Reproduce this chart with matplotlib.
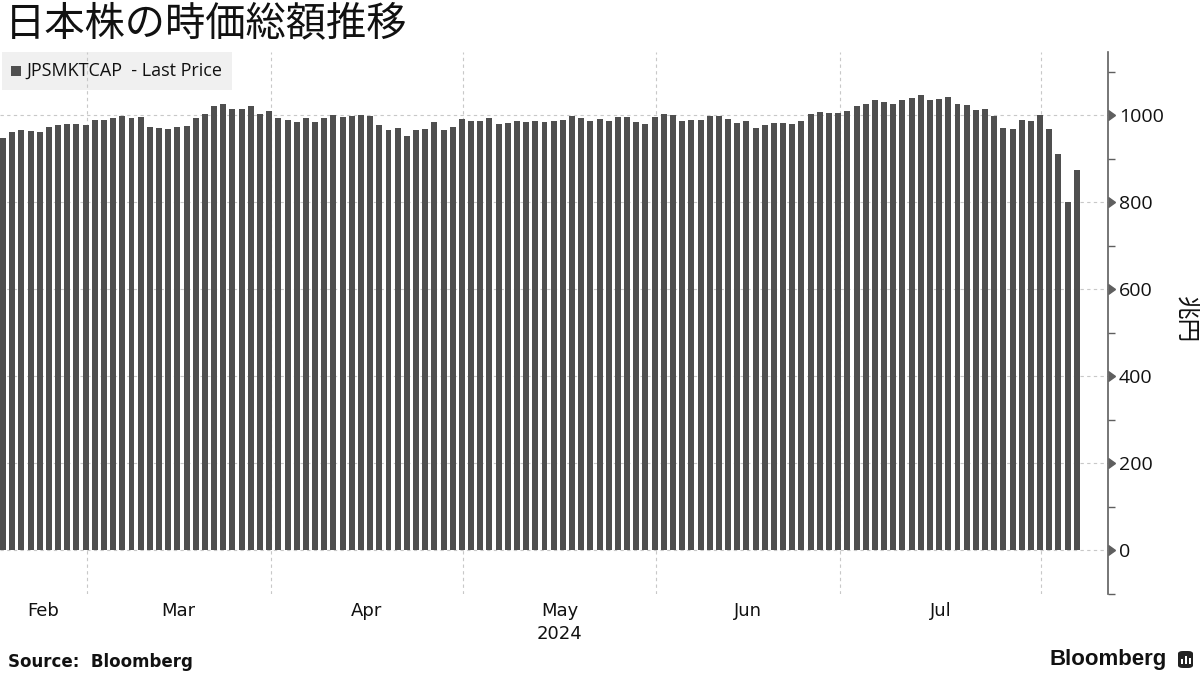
import numpy as np
import matplotlib
matplotlib.use("Agg")
import matplotlib.pyplot as plt
from matplotlib.patches import Rectangle, FancyBboxPatch
from matplotlib.markers import CARETRIGHTBASE
import matplotlib.transforms as mtransforms

plt.rcParams['font.family'] = ['DejaVu Sans', 'Noto Sans CJK JP']

# ---- data (兆円, daily, mid-Feb .. 6 Aug 2024) ----
values = [
    948, 960, 966, 963, 961, 973, 977, 979, 979, 977,
    989, 989, 993, 998, 993, 995, 973, 970, 968, 973,
    975, 993, 1002, 1021, 1025, 1014, 1014, 1021, 1002, 1009,
    993, 989, 984, 993, 984, 993, 1000, 995, 998, 1000,
    998, 977, 966, 970, 952, 966, 968, 984, 966, 973,
    991, 986, 986, 993, 979, 982, 986, 984, 986, 984,
    986, 989, 998, 993, 986, 991, 986, 995, 995, 984,
    979, 995, 1002, 1000, 986, 989, 989, 998, 998, 991,
    982, 986, 970, 977, 982, 982, 979, 986, 1002, 1007,
    1005, 1005, 1009, 1021, 1025, 1034, 1030, 1025, 1034, 1039,
    1046, 1034, 1037, 1041, 1025, 1023, 1011, 1014, 998, 970,
    968, 989, 986, 1000, 968, 911, 801, 874,
]
months = ['Feb', 'Mar', 'Apr', 'May', 'Jun', 'Jul']
month_end_idx = [9, 29, 50, 71, 91, 113]   # last trading day of each month
year_label = '2024'
series_name = 'JPSMKTCAP  - Last Price'
title = '日本株の時価総額推移'
ylabel = '兆円'
major_ticks = [0, 200, 400, 600, 800, 1000]
minor_ticks = [-100, 100, 300, 500, 700, 900, 1100]

W, H = 1200, 675
fig = plt.figure(figsize=(12, 6.75), dpi=100)
fig.patch.set_facecolor('white')

ax_l, ax_r, ax_t, ax_b = 0, 1108, 52, 594
ax = fig.add_axes([ax_l / W, 1 - ax_b / H, (ax_r - ax_l) / W, (ax_b - ax_t) / H])
ax.set_facecolor('none')

bar_color = '#4f4f4f'
grid_color = '#c8c8c8'
spine_color = '#5f5f5f'

x = np.arange(len(values))
ax.bar(x, values, width=0.65, color=bar_color, zorder=3)

xmin, xmax = -0.33, 120.4
ax.set_xlim(xmin, xmax)
ax.set_ylim(-101, 1145)

for s in ['left', 'top', 'bottom']:
    ax.spines[s].set_visible(False)
ax.spines['right'].set_color(spine_color)
ax.spines['right'].set_linewidth(1.2)

# y axis on the right
ax.yaxis.tick_right()
ax.set_yticks(major_ticks)
ax.set_yticklabels([str(v) for v in major_ticks], fontsize=14, family='Open Sans', color='#111111')
ax.set_yticks(minor_ticks, minor=True)
ax.tick_params(axis='y', which='major', length=7, width=1, color=spine_color, pad=1)
ax.tick_params(axis='y', which='minor', length=5, width=1, color=spine_color)
for t in ax.yaxis.get_major_ticks():
    t.tick2line.set_marker(CARETRIGHTBASE)
    t.tick2line.set_markersize(7)
ax.yaxis.grid(True, which='major', color=grid_color, linestyle=(0, (3, 3)), linewidth=0.8, zorder=1)
ax.set_axisbelow(True)

# y label (rotated, on the right)
fig.text(1186 / W, 1 - 320 / H, ylabel, rotation=-90, fontsize=17, family='Noto Sans CJK JP',
         ha='center', va='center', color='#111111')

# month boundaries and labels
bounds = [xmin] + [m + 0.15 for m in month_end_idx]
for b in bounds[1:]:
    ax.axvline(b, color=grid_color, linestyle=(0, (3, 3)), linewidth=0.8, zorder=1)
label_pos = [(bounds[i] + bounds[i + 1]) / 2 for i in range(len(months))]
ax.set_xticks(label_pos)
ax.set_xticklabels(months, fontsize=13, color='#111111')
ax.tick_params(axis='x', length=0, pad=6)
trans = mtransforms.blended_transform_factory(ax.transData, fig.transFigure)
ax.text(label_pos[months.index('May')], 1 - 634 / H, year_label, transform=trans,
        ha='center', va='center', fontsize=13, color='#111111')

# title
fig.text(5 / W, 1 - 24 / H, title, family='Noto Sans CJK JP', fontsize=29,
         va='center', ha='left', color='#111111')

# legend box
fig.patches.append(Rectangle((2 / W, 1 - 90 / H), 230 / W, 38 / H, transform=fig.transFigure,
                             facecolor='#f0f0f0', edgecolor='none', zorder=-1))
fig.patches.append(Rectangle((11 / W, 1 - 76 / H), 10 / W, 10 / H, transform=fig.transFigure,
                             facecolor=bar_color, edgecolor='none', zorder=-1))
fig.text(26 / W, 1 - 71 / H, series_name, family='Open Sans', fontsize=13,
         va='center', ha='left', color='#111111')

# footer
fig.text(8 / W, 1 - 662 / H, 'Source:  Bloomberg', fontsize=12, fontweight='bold',
         va='center', ha='left', color='#111111')
fig.text(1167 / W, 1 - 660 / H, 'Bloomberg', family='Liberation Sans', fontsize=16,
         fontweight='bold', va='center', ha='right', color='#111111')
fig.patches.append(FancyBboxPatch((1178 / W, 1 - 668 / H), 15 / W, 17 / H,
                                  boxstyle='round,pad=0,rounding_size=0.004',
                                  transform=fig.transFigure, facecolor='#222222', edgecolor='none'))
for i, hgt in enumerate([5, 8, 6]):
    fig.patches.append(Rectangle(((1181 + i * 4) / W, 1 - 664 / H), 2 / W, hgt / H,
                                 transform=fig.transFigure, facecolor='white', edgecolor='none'))

fig.savefig('out.png', dpi=100)
